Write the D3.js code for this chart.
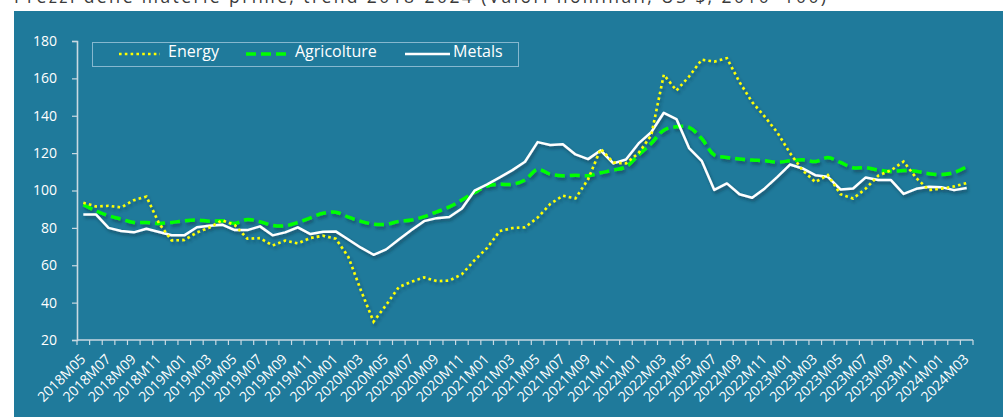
<!DOCTYPE html>
<html>
<head>
<meta charset="utf-8">
<script src="https://cdn.jsdelivr.net/npm/d3@7"></script>
<style>
  html, body { margin: 0; padding: 0; background: #ffffff; }
  svg { display: block; }
  text { font-family: "Open Sans", "Noto Sans", sans-serif; }
</style>
</head>
<body>
<svg id="chart" width="1003" height="417"></svg>
<script>
const title = "Prezzi delle materie prime, trend 2018-2024 (Valori nominali, US $, 2010=100)";

const categories = [
  "2018M05","2018M06","2018M07","2018M08","2018M09","2018M10","2018M11","2018M12",
  "2019M01","2019M02","2019M03","2019M04","2019M05","2019M06","2019M07","2019M08","2019M09","2019M10","2019M11","2019M12",
  "2020M01","2020M02","2020M03","2020M04","2020M05","2020M06","2020M07","2020M08","2020M09","2020M10","2020M11","2020M12",
  "2021M01","2021M02","2021M03","2021M04","2021M05","2021M06","2021M07","2021M08","2021M09","2021M10","2021M11","2021M12",
  "2022M01","2022M02","2022M03","2022M04","2022M05","2022M06","2022M07","2022M08","2022M09","2022M10","2022M11","2022M12",
  "2023M01","2023M02","2023M03","2023M04","2023M05","2023M06","2023M07","2023M08","2023M09","2023M10","2023M11","2023M12",
  "2024M01","2024M02","2024M03"
];

const energy = [
  93.5, 91.5, 91.8, 91.0, 94.8, 96.8, 82.4, 73.3, 73.5, 77.5, 80.2, 84.1, 81.5, 74.2, 74.5, 70.6,
  73.2, 71.7, 74.6, 75.8, 74.2, 64.5, 46.5, 29.8, 38.8, 48.3, 51.2, 53.5, 51.5, 51.8, 55.2, 62.7,
  69.3, 78.3, 79.9, 80.3, 85.5, 92.8, 97.2, 95.8, 106.0, 122.3, 115.0, 114.5, 120.0, 129.5, 162.0,
  153.5, 161.0, 170.0, 169.0, 170.8, 158.0, 147.3, 139.5, 131.0, 120.0, 110.8, 104.5, 108.3, 98.0,
  95.7, 101.0, 108.0, 110.8, 115.5, 106.7, 100.3, 101.0, 102.2, 104.0
];

const agricolture = [
  92.4, 89.1, 86.5, 84.7, 82.9, 82.9, 82.4, 82.9, 83.8, 84.2, 83.6, 83.8, 82.4, 84.5, 83.3, 81.3,
  81.1, 82.9, 85.4, 87.8, 88.4, 85.8, 83.5, 82.0, 81.9, 83.5, 84.2, 86.0, 88.6, 91.2, 94.9, 98.9,
  102.4, 103.3, 103.3, 105.6, 111.3, 108.7, 107.9, 108.2, 107.9, 109.5, 110.9, 112.7, 119.0, 125.2,
  132.3, 134.1, 133.8, 127.8, 119.0, 117.7, 116.8, 116.3, 115.9, 115.2, 115.9, 116.4, 115.5, 117.6,
  115.0, 112.2, 112.2, 111.0, 110.2, 110.7, 110.3, 109.0, 108.5, 109.6, 112.7
];

const metals = [
  87.2, 87.2, 80.0, 78.3, 77.6, 79.5, 77.8, 76.1, 76.0, 80.3, 81.1, 81.7, 78.8, 78.8, 80.8, 76.0,
  77.6, 80.3, 76.7, 77.9, 78.1, 73.8, 69.4, 65.6, 68.5, 73.8, 78.8, 83.6, 85.2, 85.8, 90.4, 99.9,
  103.3, 107.0, 110.9, 115.4, 125.9, 124.3, 124.7, 119.3, 116.8, 121.5, 114.5, 116.6, 125.2, 131.2,
  141.6, 138.2, 122.7, 115.9, 100.3, 103.8, 98.0, 96.1, 101.1, 107.3, 113.9, 111.8, 108.2, 107.3,
  100.6, 101.1, 107.0, 105.6, 105.6, 98.2, 100.9, 102.0, 101.8, 100.2, 101.3
];

const yTicks = [20, 40, 60, 80, 100, 120, 140, 160, 180];
const seriesNames = ["Energy", "Agricolture", "Metals"];

const svg = d3.select("#chart");

// defs: drop shadow
const defs = svg.append("defs");
const f = defs.append("filter").attr("id", "shadow")
  .attr("x", "-5%").attr("y", "-5%").attr("width", "110%").attr("height", "120%");
f.append("feDropShadow").attr("dx", 1.5).attr("dy", 2.5).attr("stdDeviation", 1.4)
  .attr("flood-color", "#0b2f40").attr("flood-opacity", 0.55);

// title (partially clipped at the top, as in the reference)
svg.append("text")
  .attr("x", 14).attr("y", 3)
  .attr("fill", "#3a3a3a")
  .attr("font-size", 17.5)
  .attr("textLength", 812)
  .text(title);

// panel
svg.append("rect")
  .attr("x", 14).attr("y", 11)
  .attr("width", 1003 - 14).attr("height", 417 - 11)
  .attr("fill", "#1f7a9b");

const x = d3.scaleBand().domain(categories).range([77, 973]).padding(0);
const y = d3.scaleLinear().domain([20, 180]).range([340, 41]);
const cx = c => x(c) + x.bandwidth() / 2;

const axisColor = "#c9d9e2";

// Y axis
const yAxis = svg.append("g")
  .attr("transform", "translate(77,0)")
  .call(d3.axisLeft(y).tickValues(yTicks).tickSize(5).tickPadding(15).tickFormat(d3.format("d")));
yAxis.select(".domain").attr("stroke", axisColor).attr("stroke-width", 1.6);
yAxis.selectAll(".tick line").attr("stroke", axisColor).attr("stroke-width", 1.2);
yAxis.selectAll(".tick text").attr("fill", "#ffffff").attr("font-size", 14)
  .attr("font-family", "'Open Sans', sans-serif");

// X axis (labels every other month)
const xAxis = svg.append("g")
  .attr("transform", "translate(0,340)")
  .call(d3.axisBottom(x)
    .tickValues(categories.filter((d, i) => i % 2 === 0))
    .tickSize(0).tickPadding(0));
xAxis.select(".domain").remove();
xAxis.selectAll(".tick text")
  .attr("fill", "#ffffff")
  .attr("font-size", 14)
  .attr("font-family", "'Open Sans', sans-serif")
  .attr("text-anchor", "end")
  .attr("dy", 0)
  .attr("y", 0)
  .attr("transform", "translate(3,20) rotate(-45)");

// x axis line and boundary tick marks
const bounds = categories.map(c => x(c)).concat([x.range()[1]]);
svg.append("line")
  .attr("x1", x.range()[0]).attr("x2", x.range()[1])
  .attr("y1", 340).attr("y2", 340)
  .attr("stroke", axisColor).attr("stroke-width", 1.6);
svg.append("g").selectAll("line").data(bounds).join("line")
  .attr("x1", d => d).attr("x2", d => d)
  .attr("y1", 340).attr("y2", 345)
  .attr("stroke", axisColor).attr("stroke-width", 1.2);

// series lines
const lineLinear = d3.line().x((d, i) => cx(categories[i])).y(d => y(d));
const lineSmooth = d3.line().x((d, i) => cx(categories[i])).y(d => y(d)).curve(d3.curveCatmullRom.alpha(0.5));

const g = svg.append("g").attr("filter", "url(#shadow)");
g.append("path").datum(agricolture)
  .attr("d", lineSmooth)
  .attr("fill", "none").attr("stroke", "#00ff00").attr("stroke-width", 3.5)
  .attr("stroke-dasharray", "10 5");
g.append("path").datum(metals)
  .attr("d", lineLinear)
  .attr("fill", "none").attr("stroke", "#ffffff").attr("stroke-width", 2.5)
  .attr("stroke-linejoin", "round");
g.append("path").datum(energy)
  .attr("d", lineLinear)
  .attr("fill", "none").attr("stroke", "#ffff00").attr("stroke-width", 2.6)
  .attr("stroke-dasharray", "2.6 3.2");

// legend
const legend = svg.append("g");
legend.append("rect")
  .attr("x", 92.5).attr("y", 42.5).attr("width", 426).attr("height", 24)
  .attr("fill", "none").attr("stroke", "#86b8cf").attr("stroke-width", 1);

const legendItems = [
  { name: seriesNames[0], color: "#ffff00", dash: "2.6 3.2", w: 2.6, x1: 119, x2: 160, tx: 168 },
  { name: seriesNames[1], color: "#00ff00", dash: "10 5", w: 3.5, x1: 246, x2: 291, tx: 295 },
  { name: seriesNames[2], color: "#ffffff", dash: null, w: 2.5, x1: 405, x2: 450, tx: 453 }
];
legendItems.forEach(it => {
  legend.append("line")
    .attr("x1", it.x1).attr("x2", it.x2).attr("y1", 54).attr("y2", 54)
    .attr("stroke", it.color).attr("stroke-width", it.w)
    .attr("stroke-dasharray", it.dash);
  legend.append("text")
    .attr("x", it.tx).attr("y", 55)
    .attr("dy", "0.1em")
    .attr("fill", "#ffffff").attr("font-size", 16)
    .text(it.name);
});
</script>
</body>
</html>
